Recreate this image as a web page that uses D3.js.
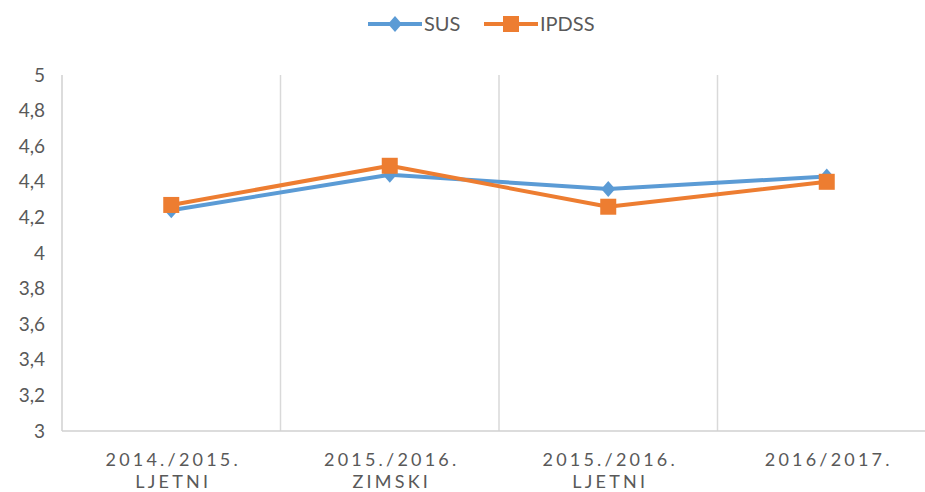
<!DOCTYPE html>
<html lang="en">
<head>
    <meta charset="UTF-8">
    <title>SUS / IPDSS</title>
    <style>
        body { margin: 0; background: #fff; }
        text { font-family: Lato, "Open Sans", sans-serif; fill: #595959; }
    </style>
</head>
<body>
    <div id="my_dataviz"></div>
    <script src="https://d3js.org/d3.v7.min.js"></script>
    <script>
        // data
        var categories = ["2014./2015.|LJETNI", "2015./2016.|ZIMSKI", "2015./2016.|LJETNI", "2016/2017."]
        var susValues = [4.24, 4.44, 4.36, 4.43]
        var ipdssValues = [4.27, 4.49, 4.26, 4.40]
        var yTicks = [3, 3.2, 3.4, 3.6, 3.8, 4, 4.2, 4.4, 4.6, 4.8, 5]

        var series = [
            { name: "SUS", values: susValues, color: "#5B9BD5", marker: "diamond" },
            { name: "IPDSS", values: ipdssValues, color: "#ED7D31", marker: "square" }
        ]

        var W = 925, H = 492
        var margin = { top: 75, right: -11, bottom: 61, left: 62 },
            width = W - margin.left - margin.right,
            height = H - margin.top - margin.bottom

        var svg = d3.select("#my_dataviz")
            .append("svg")
            .attr("width", W)
            .attr("height", H)

        var g = svg.append("g")
            .attr("transform", "translate(" + margin.left + "," + margin.top + ")")

        var x = d3.scaleBand()
            .domain(categories)
            .range([0, width])

        var y = d3.scaleLinear()
            .domain([3, 5])
            .range([height, 0])

        // vertical gridlines between categories
        g.selectAll(".vgrid")
            .data(categories.slice(1))
            .enter()
            .append("line")
            .attr("x1", function (d) { return x(d) })
            .attr("x2", function (d) { return x(d) })
            .attr("y1", 0)
            .attr("y2", height)
            .attr("stroke", "#d9d9d9")
            .attr("stroke-width", 1.5)

        // axes lines
        g.append("line")
            .attr("x1", 0).attr("x2", 0)
            .attr("y1", 0).attr("y2", height)
            .attr("stroke", "#d0d0d0").attr("stroke-width", 1.5)
        g.append("line")
            .attr("x1", 0).attr("x2", width)
            .attr("y1", height).attr("y2", height)
            .attr("stroke", "#d0d0d0").attr("stroke-width", 1.5)

        // Y tick labels
        var fmt = function (v) { return d3.format(".1~f")(v).replace(".", ",") }
        g.selectAll(".ylab")
            .data(yTicks)
            .enter()
            .append("text")
            .attr("x", -17)
            .attr("y", function (d) { return y(d) })
            .attr("dy", "0.35em")
            .attr("text-anchor", "end")
            .style("font-size", "19px")
            .text(fmt)

        // X tick labels (two lines)
        var xl = g.selectAll(".xlab")
            .data(categories)
            .enter()
            .append("text")
            .attr("text-anchor", "middle")
            .style("font-size", "18px")
            .style("letter-spacing", "3.2px")
        xl.selectAll("tspan")
            .data(function (d) { return d.split("|").map(function (t) { return { c: d, t: t } }) })
            .enter()
            .append("tspan")
            .attr("x", function (d) { return x(d.c) + x.bandwidth() / 2 + 2 })
            .attr("y", function (d, i) { return height + 35 + i * 22 })
            .text(function (d) { return d.t })

        var line = d3.line()
            .x(function (d, i) { return x(categories[i]) + x.bandwidth() / 2 })
            .y(function (d) { return y(d) })

        function drawMarker(sel, kind, color) {
            if (kind === "diamond") {
                sel.append("path")
                    .attr("d", "M0,-8L7,0L0,8L-7,0Z")
                    .attr("fill", color)
            } else {
                sel.append("rect")
                    .attr("x", -8).attr("y", -8)
                    .attr("width", 16).attr("height", 16)
                    .attr("fill", color)
            }
        }

        series.forEach(function (s) {
            g.append("path")
                .datum(s.values)
                .attr("fill", "none")
                .attr("stroke", s.color)
                .attr("stroke-width", 4)
                .attr("stroke-linejoin", "round")
                .attr("d", line)
            g.selectAll(".m-" + s.name)
                .data(s.values)
                .enter()
                .append("g")
                .attr("transform", function (d, i) {
                    return "translate(" + (x(categories[i]) + x.bandwidth() / 2) + "," + y(d) + ")"
                })
                .each(function () { drawMarker(d3.select(this), s.marker, s.color) })
        })

        // Handmade legend
        var legendPos = [368, 484]
        series.forEach(function (s, i) {
            var lg = svg.append("g").attr("transform", "translate(" + legendPos[i] + ",24)")
            lg.append("line")
                .attr("x1", 0).attr("x2", 54)
                .attr("stroke", s.color).attr("stroke-width", 4)
            var m = lg.append("g").attr("transform", "translate(27,0)")
            drawMarker(m, s.marker, s.color)
            lg.append("text")
                .attr("x", 56)
                .attr("dy", "0.35em")
                .style("font-size", "20px")
                .text(s.name)
        })
    </script>
</body>
</html>
